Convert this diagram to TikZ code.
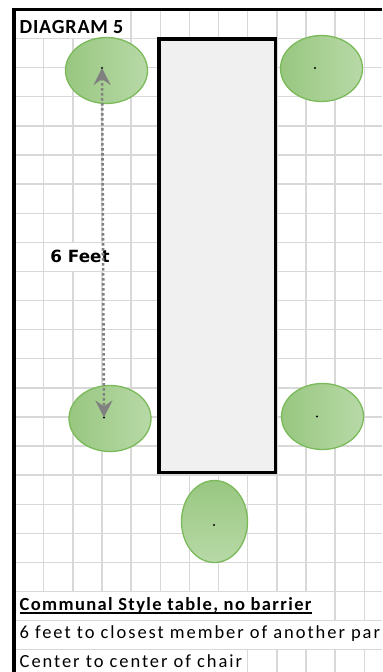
\documentclass[tikz,border=0pt]{standalone}
\usepackage{fontspec}
\setmainfont{Carlito}
\newfontfamily\cellfont[LetterSpace=10.5]{Carlito}
\newfontfamily\boldcellfont[LetterSpace=7.5]{Carlito}
\newfontfamily\headfont[LetterSpace=4]{Carlito}
\newfontfamily\feetfont{DejaVu Sans}
\usetikzlibrary{arrows.meta,positioning,shapes.geometric}
\definecolor{gridgray}{RGB}{216,216,216}
\definecolor{tablegray}{RGB}{240,240,240}
\definecolor{chairdark}{RGB}{152,199,128}
\definecolor{chairlight}{RGB}{184,217,167}
\definecolor{chairedge}{RGB}{122,186,90}
\definecolor{arrowgray}{RGB}{128,128,128}

\begin{document}
\begin{tikzpicture}[x=1bp, y=-1bp,
    gridline/.style={draw=gridgray, line width=1.4bp},
    cellmask/.style={fill=white},
    tablebox/.style={draw=black, fill=tablegray, line width=3.3bp, minimum width=116.7bp, minimum height=433.5bp, inner sep=0pt},
    chair/.style={ellipse, draw=chairedge, line width=1.3bp, left color=chairdark, right color=chairlight, minimum width=82bp, minimum height=66bp, inner sep=0pt},
    chairup/.style={ellipse, draw=chairedge, line width=1.3bp, top color=chairdark, bottom color=chairlight, minimum width=66bp, minimum height=82bp, inner sep=0pt},
    cell/.style={font={\cellfont\fontsize{18.5bp}{22bp}\selectfont}, anchor=base west, inner sep=0pt},
    dimarrow/.style={draw=arrowgray, line width=2.6bp, dash pattern=on 2.6bp off 2.4bp, {Stealth[length=17bp, width=17bp, inset=6bp]}-{Stealth[length=17bp, width=17bp, inset=6bp]}}
]
\useasboundingbox (0,0) rectangle (382,672);
\clip (0,0) rectangle (382,672);

% sheet grid
\foreach \k in {1,...,12}
    \draw[gridline] ({14.5+\k*29.15}, 9.5) -- ({14.5+\k*29.15}, 672);
\foreach \k in {1,...,22}
    \draw[gridline] (14, {9.5+\k*29.1}) -- (382, {9.5+\k*29.1});

% cells covered by overflowing text
\fill[cellmask] (16, 11.3) rectangle (130.4, 37.9);
\fill[cellmask] (44.5, 243.0) rectangle (130.4, 270.7);
\fill[cellmask] (16, 592.2) rectangle (334.4, 619.9);
\fill[cellmask] (16, 621.3) rectangle (382, 649.0);
\fill[cellmask] (16, 650.4) rectangle (246.9, 672);

% sheet border
\draw[line width=3.5bp] (12, 9.5) -- (382, 9.5);
\draw[line width=4bp] (14, 7.75) -- (14, 672);

\node[font={\headfont\bfseries\fontsize{20bp}{24bp}\selectfont}, anchor=base west, inner sep=0pt] (title) at (19.5, 33.5) {DIAGRAM 5};

% table
\node[tablebox] (table) at (217.35, 255.75) {};

% chairs
\node[chair] (chTL) at (106.5, 70.5) {};
\node[chair] (chTR) at (321.5, 68.5) {};
\node[chair] (chBL) at (110, 418.5) {};
\node[chair] (chBR) at (322.5, 416.5) {};
\node[chairup] (chB) at (214.5, 521.5) {};

\coordinate (pTL) at (102, 68);
\coordinate (pTR) at (315, 68);
\coordinate (pBL) at (104, 417.5);
\coordinate (pBR) at (317, 416.5);
\coordinate (pB) at (214, 525);
\foreach \p in {pTL,pTR,pBL,pBR,pB}
    \fill (\p) circle (1.1bp);

% distance
\node[font={\feetfont\bfseries\fontsize{16.8bp}{20bp}\selectfont}, inner sep=0pt] (feet) at (80, 256.5) {6 Feet};
\draw[dimarrow] (pTL) -- (pBL);

% notes
\node[cell, font={\boldcellfont\bfseries\fontsize{18.5bp}{22bp}\selectfont}] (note1) at (19.5, 610) {Communal Style table, no barrier};
\draw[line width=1.4bp] ([yshift=-2.8bp]note1.base west) -- ([yshift=-2.8bp]note1.base east);
\node[cell] (note2) at (19.5, 638.5) {6 feet to closest member of another par};
\node[cell] (note3) at (19.5, 667) {Center to center of chair};
\end{tikzpicture}
\end{document}
